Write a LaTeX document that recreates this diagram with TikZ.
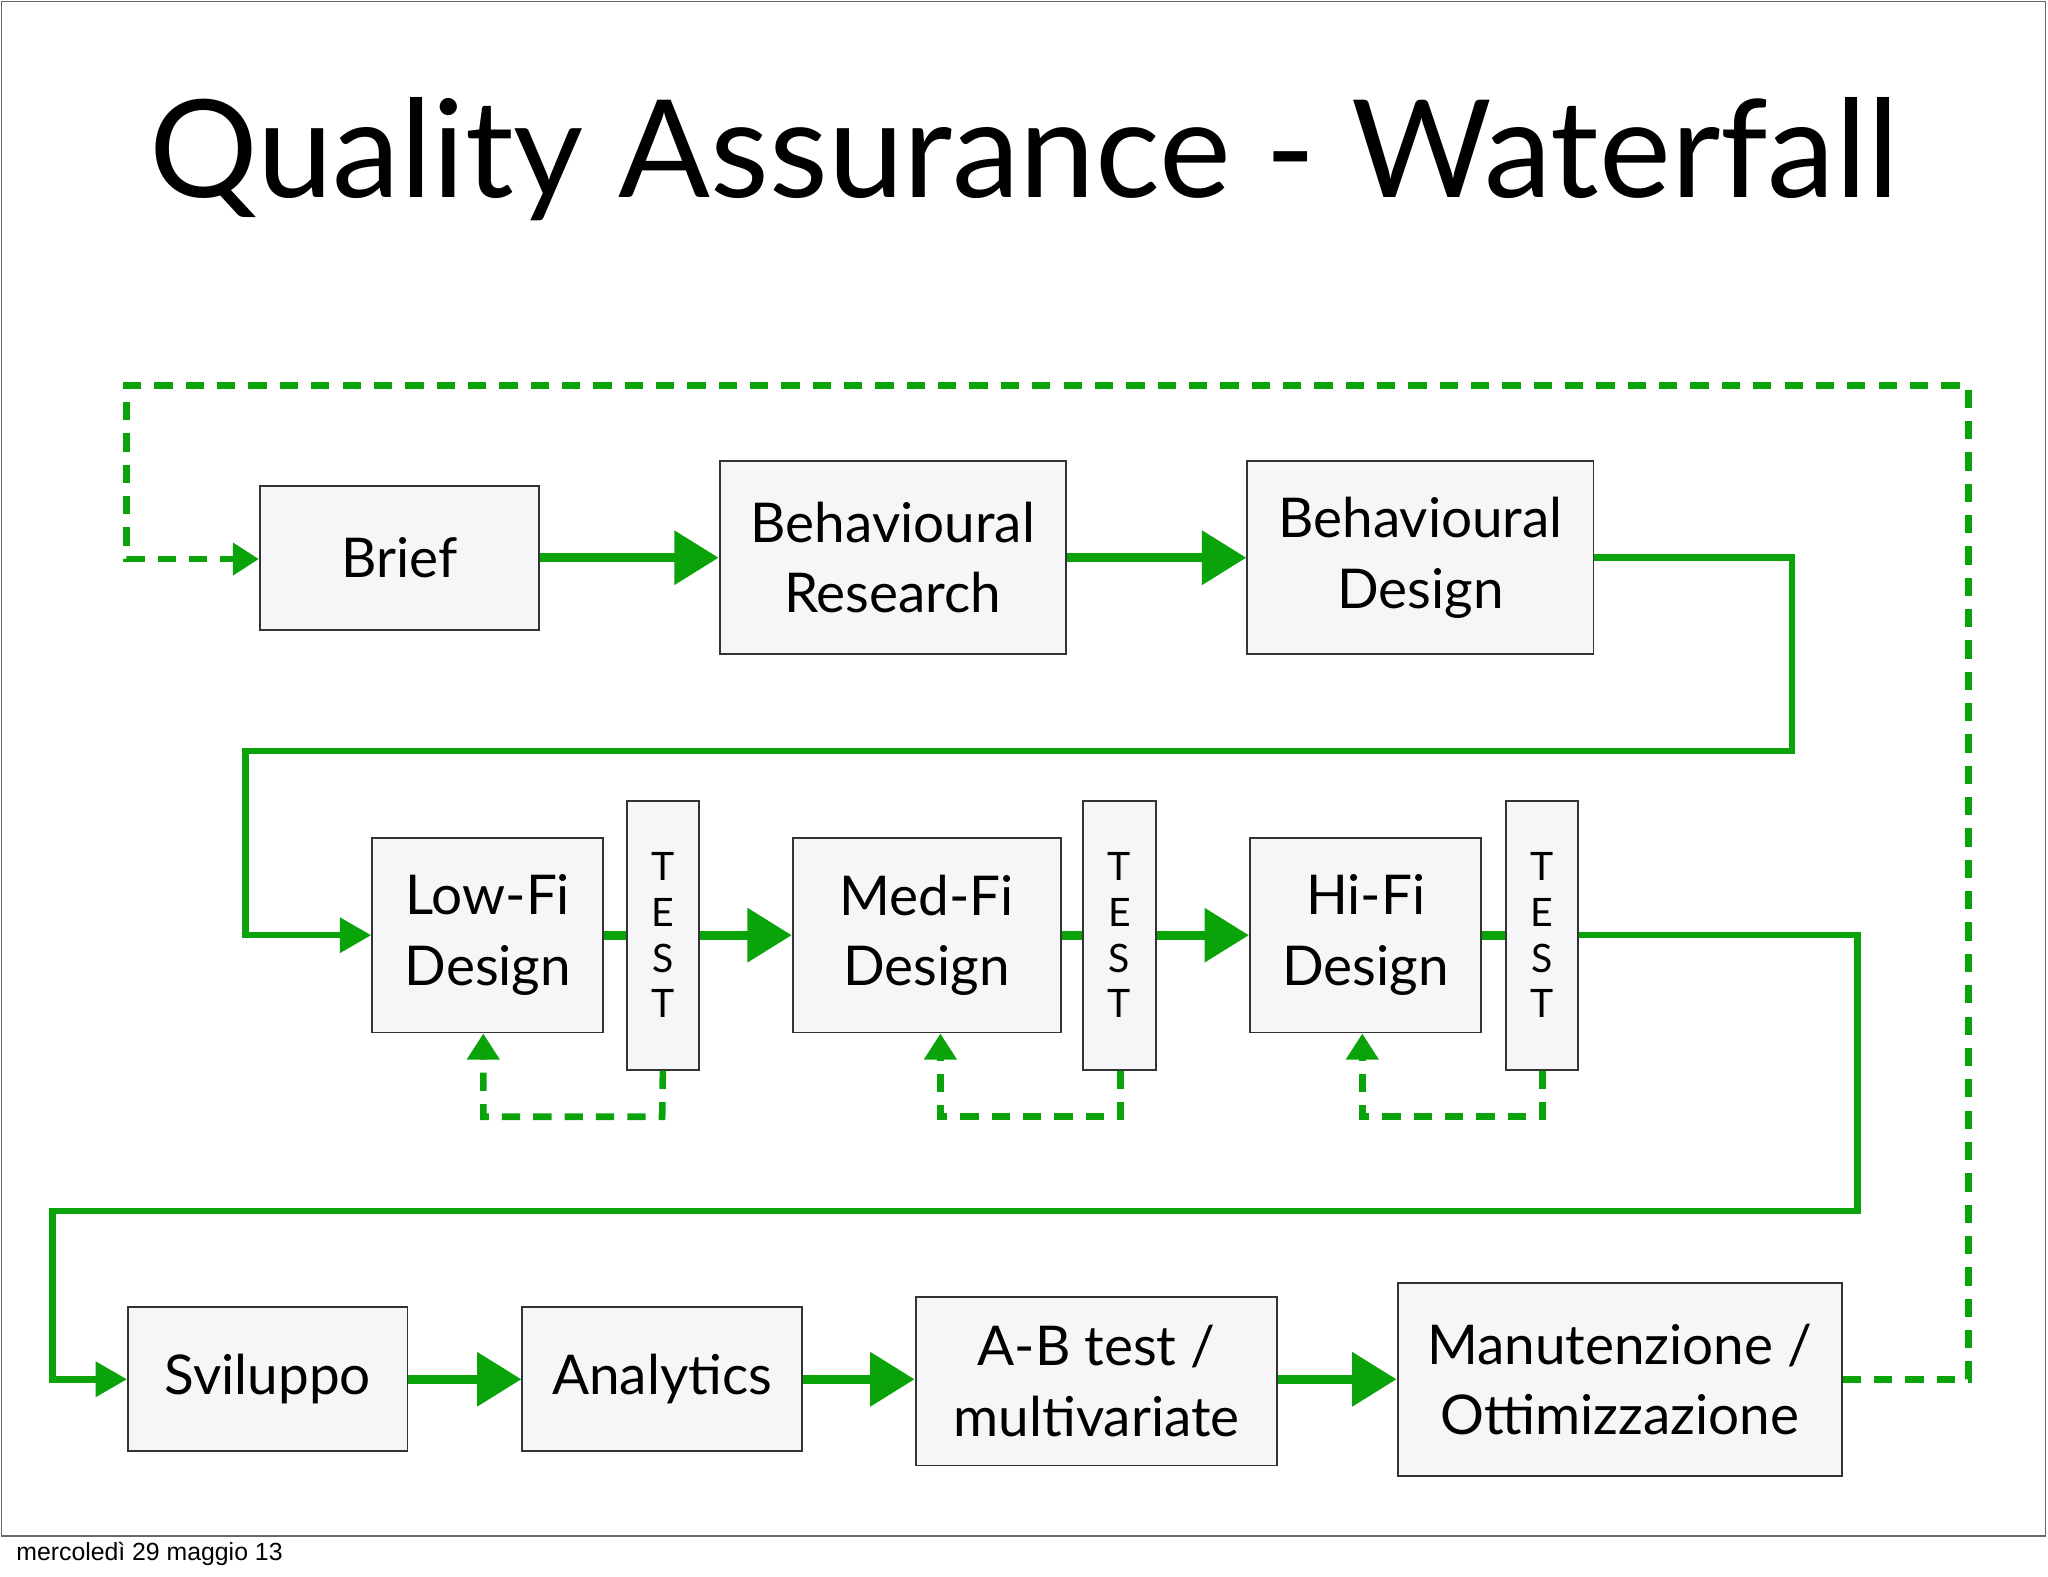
\documentclass[tikz,border=0pt]{standalone}
\usepackage{fontspec}
\setmainfont{Lato}
\newfontfamily\foot{Liberation Sans}
\usetikzlibrary{arrows.meta}
\definecolor{gr}{HTML}{0AA30A}
\definecolor{bx}{HTML}{F6F5F8}
\tikzset{
 box/.style={draw=black!80,line width=1.5pt,fill=bx,align=center,font=\fontsize{42}{54}\selectfont,inner sep=0pt},
 tst/.style={draw=black!80,line width=1.5pt,fill=bx,align=center,font=\fontsize{30}{35}\selectfont,inner sep=0pt},
 main/.style={draw=gr,line width=7pt,-{Triangle[length=34pt,width=40pt]}},
 thin/.style={draw=gr,line width=5pt},
 thinarr/.style={thin,-{Triangle[length=24pt,width=26pt]}},
 gdash/.style={draw=gr,line width=5pt,dash pattern=on 14pt off 10pt},
 dasharr/.style={gdash,-{Triangle[length=20pt,width=24pt]}},
}
\begin{document}
\begin{tikzpicture}[x=1pt,y=-1pt]
\useasboundingbox (0,0) rectangle (1568,1207);
\fill[white] (0,0) rectangle (1568,1207);
\draw[black!60,line width=1.2pt] (1,1) rectangle (1566,1176);
\node[font=\fontsize{104}{120}\selectfont] (title) at (784,122) {Quality Assurance - Waterfall};
\node[anchor=west,font=\foot\fontsize{19}{22}\selectfont] (foot) at (9,1190) {mercoledì 29 maggio 13};
% boxes
\node[box,minimum width=214pt,minimum height=110pt] (brief) at (306,427) {Brief};
\node[box,minimum width=265pt,minimum height=148pt] (br) at (683.5,427) {Behavioural\\Research};
\node[box,minimum width=265pt,minimum height=148pt] (bd) at (1087.5,427) {Behavioural\\Design};
\node[box,minimum width=177pt,minimum height=149pt] (lo) at (373.5,716) {Low-Fi\\Design};
\node[tst,minimum width=55pt,minimum height=206pt] (t1) at (507.5,716) {T\\E\\S\\T};
\node[box,minimum width=205pt,minimum height=149pt] (me) at (709.5,716) {Med-Fi\\Design};
\node[tst,minimum width=56pt,minimum height=206pt] (t2) at (857,716) {T\\E\\S\\T};
\node[box,minimum width=177pt,minimum height=149pt] (hi) at (1045.5,716) {Hi-Fi\\Design};
\node[tst,minimum width=55pt,minimum height=206pt] (t3) at (1180.5,716) {T\\E\\S\\T};
\node[box,minimum width=214pt,minimum height=110pt] (sv) at (205,1056) {Sviluppo};
\node[box,minimum width=214pt,minimum height=110pt] (an) at (507,1056) {Analytics};
\node[box,minimum width=277pt,minimum height=129pt] (ab) at (839.5,1057.5) {A-B test /\\multivariate};
\node[box,minimum width=340pt,minimum height=148pt] (mo) at (1240,1056) {Manutenzione /\\Ottimizzazione};
% coordinates
\coordinate (c1) at (1372,427); \coordinate (c2) at (1372,575);
\coordinate (c3) at (188,575); \coordinate (c4) at (188,716);
\coordinate (d1) at (1422,716); \coordinate (d2) at (1422,927);
\coordinate (d3) at (40,927); \coordinate (d4) at (40,1056);
\coordinate (e1) at (1507,1056); \coordinate (e2) at (1507,295);
\coordinate (e3) at (97,295); \coordinate (e4) at (97,428);
\coordinate (f1) at (507,855); \coordinate (f2) at (370,855);
\coordinate (g1) at (858,855); \coordinate (g2) at (720,855);
\coordinate (h1) at (1181,855); \coordinate (h2) at (1043,855);
% main arrows
\draw[main] (brief.east) -- (br.west);
\draw[main] (br.east) -- (bd.west);
\draw[thinarr] (bd.east) -- (c1) -- (c2) -- (c3) -- (c4) -- (lo.west);
\draw[thin,line width=7pt] (lo.east) -- (lo.east -| t1.west);
\draw[main] (t1.east) -- (me.west);
\draw[thin,line width=7pt] (me.east) -- (me.east -| t2.west);
\draw[main] (t2.east) -- (hi.west);
\draw[thin,line width=7pt] (hi.east) -- (hi.east -| t3.west);
\draw[thinarr] (t3.east) -- (d1) -- (d2) -- (d3) -- (d4) -- (sv.west);
\draw[main] (sv.east) -- (an.west);
\draw[main] (an.east) -- (an.east -| ab.west);
\draw[main] (ab.east |- mo.west) -- (mo.west);
% dashed
\draw[dasharr] (mo.east |- e1) -- (e1) -- (e2) -- (e3) -- (e4) -- (brief.west |- e4);
\draw[dasharr] (t1.south) -- (f1) -- (f2) -- (f2 |- lo.south);
\draw[dasharr] (t2.south -| g1) -- (g1) -- (g2) -- (g2 |- me.south);
\draw[dasharr] (t3.south -| h1) -- (h1) -- (h2) -- (h2 |- hi.south);
\end{tikzpicture}
\end{document}
